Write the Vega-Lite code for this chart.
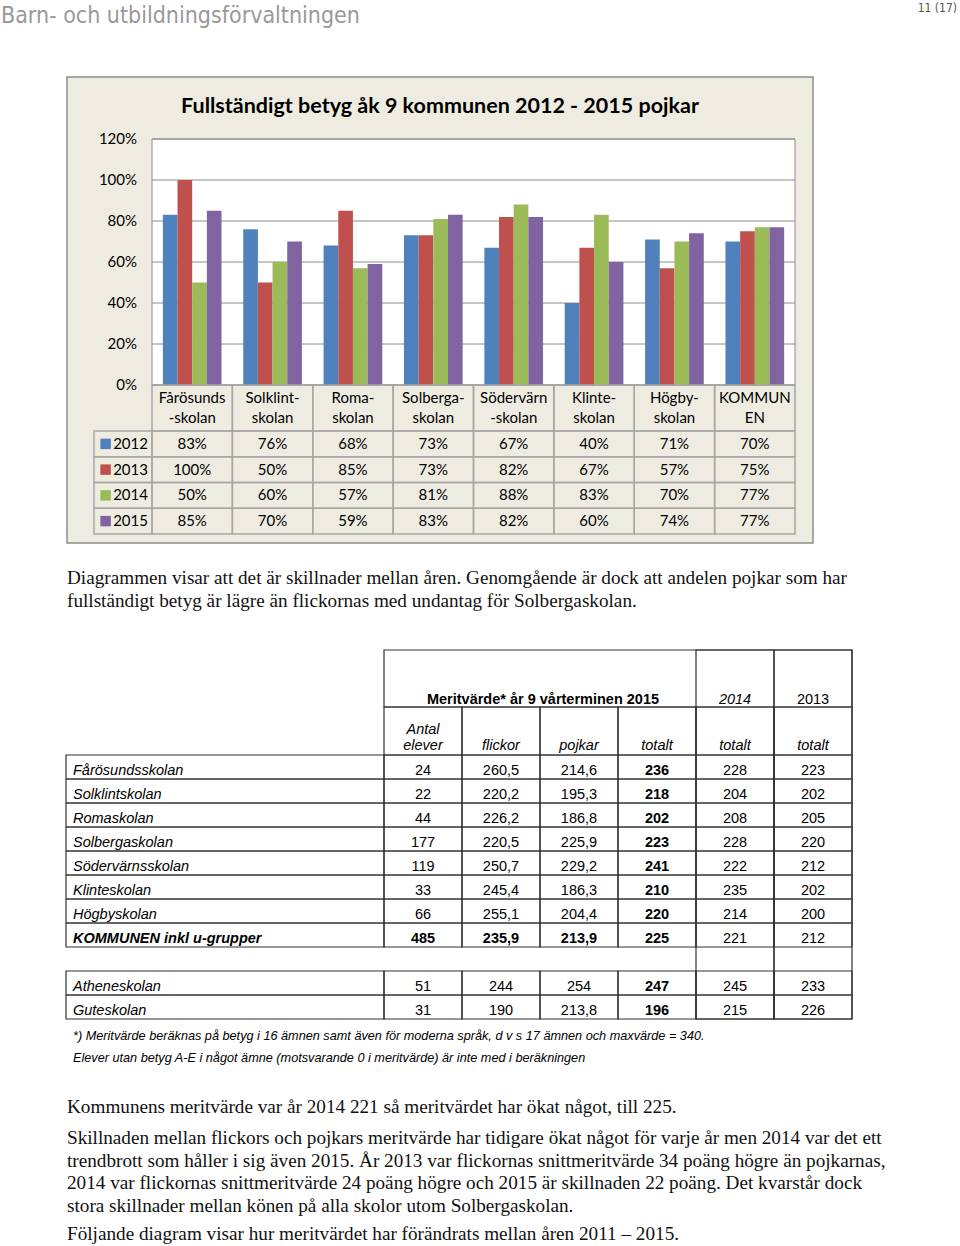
{
  "$schema": "https://vega.github.io/schema/vega-lite/v6.json",
  "width": 960,
  "height": 1246,
  "autosize": {"type": "none"},
  "padding": 0,
  "background": "white",
  "config": {
    "view": {"stroke": null},
    "locale": {"number": {"decimal": ",", "thousands": " ", "grouping": [3], "currency": ["", " kr"]}}
  },
  "datasets": {
    "skolor": [
      {"skola": "Fårösundsskolan", "etikett": "Fårösunds\n-skolan"},
      {"skola": "Solklintskolan", "etikett": "Solklint-\nskolan"},
      {"skola": "Romaskolan", "etikett": "Roma-\nskolan"},
      {"skola": "Solbergaskolan", "etikett": "Solberga-\nskolan"},
      {"skola": "Södervärnsskolan", "etikett": "Södervärn\n-skolan"},
      {"skola": "Klinteskolan", "etikett": "Klinte-\nskolan"},
      {"skola": "Högbyskolan", "etikett": "Högby-\nskolan"},
      {"skola": "KOMMUNEN", "etikett": "KOMMUN\nEN"}
    ],
    "ar": [{"ar": "2012"}, {"ar": "2013"}, {"ar": "2014"}, {"ar": "2015"}],
    "skala": [{"v": 0}, {"v": 0.2}, {"v": 0.4}, {"v": 0.6}, {"v": 0.8}, {"v": 1.0}, {"v": 1.2}],
    "andel": [
      {"skola": "Fårösundsskolan", "ar": "2012", "andel": 0.83},
      {"skola": "Fårösundsskolan", "ar": "2013", "andel": 1.00},
      {"skola": "Fårösundsskolan", "ar": "2014", "andel": 0.50},
      {"skola": "Fårösundsskolan", "ar": "2015", "andel": 0.85},
      {"skola": "Solklintskolan", "ar": "2012", "andel": 0.76},
      {"skola": "Solklintskolan", "ar": "2013", "andel": 0.50},
      {"skola": "Solklintskolan", "ar": "2014", "andel": 0.60},
      {"skola": "Solklintskolan", "ar": "2015", "andel": 0.70},
      {"skola": "Romaskolan", "ar": "2012", "andel": 0.68},
      {"skola": "Romaskolan", "ar": "2013", "andel": 0.85},
      {"skola": "Romaskolan", "ar": "2014", "andel": 0.57},
      {"skola": "Romaskolan", "ar": "2015", "andel": 0.59},
      {"skola": "Solbergaskolan", "ar": "2012", "andel": 0.73},
      {"skola": "Solbergaskolan", "ar": "2013", "andel": 0.73},
      {"skola": "Solbergaskolan", "ar": "2014", "andel": 0.81},
      {"skola": "Solbergaskolan", "ar": "2015", "andel": 0.83},
      {"skola": "Södervärnsskolan", "ar": "2012", "andel": 0.67},
      {"skola": "Södervärnsskolan", "ar": "2013", "andel": 0.82},
      {"skola": "Södervärnsskolan", "ar": "2014", "andel": 0.88},
      {"skola": "Södervärnsskolan", "ar": "2015", "andel": 0.82},
      {"skola": "Klinteskolan", "ar": "2012", "andel": 0.40},
      {"skola": "Klinteskolan", "ar": "2013", "andel": 0.67},
      {"skola": "Klinteskolan", "ar": "2014", "andel": 0.83},
      {"skola": "Klinteskolan", "ar": "2015", "andel": 0.60},
      {"skola": "Högbyskolan", "ar": "2012", "andel": 0.71},
      {"skola": "Högbyskolan", "ar": "2013", "andel": 0.57},
      {"skola": "Högbyskolan", "ar": "2014", "andel": 0.70},
      {"skola": "Högbyskolan", "ar": "2015", "andel": 0.74},
      {"skola": "KOMMUNEN", "ar": "2012", "andel": 0.70},
      {"skola": "KOMMUNEN", "ar": "2013", "andel": 0.75},
      {"skola": "KOMMUNEN", "ar": "2014", "andel": 0.77},
      {"skola": "KOMMUNEN", "ar": "2015", "andel": 0.77}
    ],
    "merit": [
      {"skola": "Fårösundsskolan", "antal": 24, "flickor": 260.5, "pojkar": 214.6, "totalt": 236, "t2014": 228, "t2013": 223},
      {"skola": "Solklintskolan", "antal": 22, "flickor": 220.2, "pojkar": 195.3, "totalt": 218, "t2014": 204, "t2013": 202},
      {"skola": "Romaskolan", "antal": 44, "flickor": 226.2, "pojkar": 186.8, "totalt": 202, "t2014": 208, "t2013": 205},
      {"skola": "Solbergaskolan", "antal": 177, "flickor": 220.5, "pojkar": 225.9, "totalt": 223, "t2014": 228, "t2013": 220},
      {"skola": "Södervärnsskolan", "antal": 119, "flickor": 250.7, "pojkar": 229.2, "totalt": 241, "t2014": 222, "t2013": 212},
      {"skola": "Klinteskolan", "antal": 33, "flickor": 245.4, "pojkar": 186.3, "totalt": 210, "t2014": 235, "t2013": 202},
      {"skola": "Högbyskolan", "antal": 66, "flickor": 255.1, "pojkar": 204.4, "totalt": 220, "t2014": 214, "t2013": 200},
      {"skola": "KOMMUNEN inkl u-grupper", "antal": 485, "flickor": 235.9, "pojkar": 213.9, "totalt": 225, "t2014": 221, "t2013": 212},
      {"skola": "Atheneskolan", "antal": 51, "flickor": 244, "pojkar": 254, "totalt": 247, "t2014": 245, "t2013": 233},
      {"skola": "Guteskolan", "antal": 31, "flickor": 190, "pojkar": 213.8, "totalt": 196, "t2014": 215, "t2013": 226}
    ],
    "kolumner": [
      {"kol": "antal", "rubrik": "Antal\nelever"},
      {"kol": "flickor", "rubrik": "flickor"},
      {"kol": "pojkar", "rubrik": "pojkar"},
      {"kol": "totalt", "rubrik": "totalt"},
      {"kol": "t2014", "rubrik": "totalt", "ar": "2014"},
      {"kol": "t2013", "rubrik": "totalt", "ar": "2013"}
    ]
  },
  "layer": [
    {
      "data": {"values": [{"text": "Barn- och utbildningsförvaltningen"}]},
      "mark": {"type": "text", "align": "left", "baseline": "alphabetic", "font": "Liberation Sans Narrow, DejaVu Sans Condensed, sans-serif", "fontSize": 23, "color": "#999999"},
      "encoding": {
        "text": {"field": "text"},
        "x": {"datum": 0, "type": "quantitative", "scale": {"domain": [0, 1], "range": [1, 957]}, "axis": null},
        "y": {"datum": 1, "type": "quantitative", "scale": {"domain": [0, 1], "range": [0, 23]}, "axis": null}
      }
    },
    {
      "data": {"values": [{"text": "11 (17)"}]},
      "mark": {"type": "text", "align": "right", "baseline": "alphabetic", "font": "Liberation Sans Narrow, DejaVu Sans Condensed, sans-serif", "fontSize": 12, "color": "#555555"},
      "encoding": {
        "text": {"field": "text"},
        "x": {"datum": 1, "type": "quantitative", "scale": {"domain": [0, 1], "range": [1, 957]}, "axis": null},
        "y": {"datum": 1, "type": "quantitative", "scale": {"domain": [0, 1], "range": [0, 12]}, "axis": null}
      }
    },
    {
      "data": {"values": [{"ram": "diagram"}]},
      "mark": {"type": "rect", "fill": "#EEECE1", "stroke": "#8c8c8c", "strokeWidth": 1.5},
      "encoding": {
        "x": {"datum": 0, "type": "quantitative", "scale": {"domain": [0, 1], "range": [67, 813]}, "axis": null},
        "x2": {"datum": 1},
        "y": {"datum": 0, "type": "quantitative", "scale": {"domain": [0, 1], "range": [77, 543]}, "axis": null},
        "y2": {"datum": 1}
      }
    },
    {
      "data": {"values": [{"ram": "rityta"}]},
      "mark": {"type": "rect", "fill": "#ffffff", "stroke": "#8c8c8c", "strokeWidth": 1},
      "encoding": {
        "x": {"datum": 0, "type": "quantitative", "scale": {"domain": [0, 1], "range": [152, 795]}, "axis": null},
        "x2": {"datum": 1},
        "y": {"datum": 0, "type": "quantitative", "scale": {"domain": [0, 1], "range": [139, 385]}, "axis": null},
        "y2": {"datum": 1}
      }
    },
    {
      "data": {"name": "skala"},
      "mark": {"type": "rule", "stroke": "#8c8c8c", "strokeWidth": 1},
      "encoding": {
        "x": {"datum": 0, "type": "quantitative", "scale": {"domain": [0, 1], "range": [152, 795]}, "axis": null},
        "x2": {"datum": 1},
        "y": {"field": "v", "type": "quantitative", "scale": {"domain": [0, 1.2], "range": [385, 139], "nice": false}, "axis": null}
      }
    },
    {
      "data": {"name": "andel"},
      "mark": {"type": "bar"},
      "encoding": {
        "x": {"field": "skola", "type": "nominal", "scale": {"domain": ["Fårösundsskolan", "Solklintskolan", "Romaskolan", "Solbergaskolan", "Södervärnsskolan", "Klinteskolan", "Högbyskolan", "KOMMUNEN"], "range": [152, 795], "paddingInner": 0.27, "paddingOuter": 0.135}, "axis": null},
        "xOffset": {"field": "ar", "type": "nominal", "scale": {"domain": ["2012", "2013", "2014", "2015"], "paddingInner": 0, "paddingOuter": 0}},
        "y": {"field": "andel", "type": "quantitative", "scale": {"domain": [0, 1.2], "range": [385, 139], "nice": false}, "axis": null},
        "color": {"field": "ar", "type": "nominal", "scale": {"domain": ["2012", "2013", "2014", "2015"], "range": ["#4F81BD", "#C0504D", "#9BBB59", "#8064A2"]}, "legend": null}
      }
    },
    {
      "data": {"name": "skala"},
      "mark": {"type": "text", "align": "right", "baseline": "middle", "font": "Lato", "fontSize": 15, "color": "#000000"},
      "encoding": {
        "text": {"field": "v", "type": "quantitative", "format": ".0%"},
        "x": {"datum": 1, "type": "quantitative", "scale": {"domain": [0, 1], "range": [67, 137]}, "axis": null},
        "y": {"field": "v", "type": "quantitative", "scale": {"domain": [0, 1.2], "range": [385, 139], "nice": false}, "axis": null}
      }
    },
    {
      "data": {"values": [{"text": "Fullständigt betyg åk 9 kommunen 2012 - 2015 pojkar"}]},
      "mark": {"type": "text", "align": "center", "baseline": "alphabetic", "font": "Lato", "fontWeight": "bold", "fontSize": 21.5, "color": "#000000"},
      "encoding": {
        "text": {"field": "text"},
        "x": {"datum": 0.5, "type": "quantitative", "scale": {"domain": [0, 1], "range": [67, 813]}, "axis": null},
        "y": {"datum": 1, "type": "quantitative", "scale": {"domain": [0, 1], "range": [77, 113]}, "axis": null}
      }
    },
    {
      "data": {"name": "skolor"},
      "mark": {"type": "rect", "fillOpacity": 0, "stroke": "#a6a6a6", "strokeWidth": 1.5},
      "encoding": {
        "x": {"field": "skola", "type": "nominal", "scale": {"domain": ["Fårösundsskolan", "Solklintskolan", "Romaskolan", "Solbergaskolan", "Södervärnsskolan", "Klinteskolan", "Högbyskolan", "KOMMUNEN"], "range": [152, 795], "paddingInner": 0, "paddingOuter": 0}, "axis": null},
        "y": {"datum": 0, "type": "quantitative", "scale": {"domain": [0, 1], "range": [385, 431]}, "axis": null},
        "y2": {"datum": 1}
      }
    },
    {
      "data": {"name": "andel"},
      "mark": {"type": "rect", "fillOpacity": 0, "stroke": "#a6a6a6", "strokeWidth": 1.5},
      "encoding": {
        "x": {"field": "skola", "type": "nominal", "scale": {"domain": ["Fårösundsskolan", "Solklintskolan", "Romaskolan", "Solbergaskolan", "Södervärnsskolan", "Klinteskolan", "Högbyskolan", "KOMMUNEN"], "range": [152, 795], "paddingInner": 0, "paddingOuter": 0}, "axis": null},
        "y": {"field": "ar", "type": "nominal", "scale": {"domain": ["2012", "2013", "2014", "2015"], "range": [431, 534], "paddingInner": 0, "paddingOuter": 0}, "axis": null}
      }
    },
    {
      "data": {"name": "ar"},
      "mark": {"type": "rect", "fillOpacity": 0, "stroke": "#a6a6a6", "strokeWidth": 1.5},
      "encoding": {
        "x": {"datum": 0, "type": "quantitative", "scale": {"domain": [0, 1], "range": [94, 152]}, "axis": null},
        "x2": {"datum": 1},
        "y": {"field": "ar", "type": "nominal", "scale": {"domain": ["2012", "2013", "2014", "2015"], "range": [431, 534], "paddingInner": 0, "paddingOuter": 0}, "axis": null}
      }
    },
    {
      "data": {"name": "skolor"},
      "mark": {"type": "text", "align": "center", "baseline": "middle", "lineBreak": "\n", "lineHeight": 20, "font": "Lato", "fontSize": 15, "color": "#000000"},
      "encoding": {
        "text": {"field": "etikett"},
        "x": {"field": "skola", "type": "nominal", "scale": {"domain": ["Fårösundsskolan", "Solklintskolan", "Romaskolan", "Solbergaskolan", "Södervärnsskolan", "Klinteskolan", "Högbyskolan", "KOMMUNEN"], "range": [152, 795], "paddingInner": 0, "paddingOuter": 0}, "axis": null},
        "y": {"datum": 0, "type": "quantitative", "scale": {"domain": [0, 1], "range": [398, 418]}, "axis": null}
      }
    },
    {
      "data": {"name": "andel"},
      "mark": {"type": "text", "align": "center", "baseline": "middle", "font": "Lato", "fontSize": 15, "color": "#000000"},
      "encoding": {
        "text": {"field": "andel", "type": "quantitative", "format": ".0%"},
        "x": {"field": "skola", "type": "nominal", "scale": {"domain": ["Fårösundsskolan", "Solklintskolan", "Romaskolan", "Solbergaskolan", "Södervärnsskolan", "Klinteskolan", "Högbyskolan", "KOMMUNEN"], "range": [152, 795], "paddingInner": 0, "paddingOuter": 0}, "axis": null},
        "y": {"field": "ar", "type": "nominal", "scale": {"domain": ["2012", "2013", "2014", "2015"], "range": [431, 534], "paddingInner": 0, "paddingOuter": 0}, "axis": null}
      }
    },
    {
      "data": {"name": "ar"},
      "mark": {"type": "square", "size": 110, "opacity": 1},
      "encoding": {
        "x": {"datum": 0.2, "type": "quantitative", "scale": {"domain": [0, 1], "range": [94, 152]}, "axis": null},
        "y": {"field": "ar", "type": "nominal", "scale": {"domain": ["2012", "2013", "2014", "2015"], "range": [431, 534], "paddingInner": 0, "paddingOuter": 0}, "axis": null},
        "color": {"field": "ar", "type": "nominal", "scale": {"domain": ["2012", "2013", "2014", "2015"], "range": ["#4F81BD", "#C0504D", "#9BBB59", "#8064A2"]}, "legend": null}
      }
    },
    {
      "data": {"name": "ar"},
      "mark": {"type": "text", "align": "left", "baseline": "middle", "font": "Lato", "fontSize": 15, "color": "#000000"},
      "encoding": {
        "text": {"field": "ar"},
        "x": {"datum": 0.33, "type": "quantitative", "scale": {"domain": [0, 1], "range": [94, 152]}, "axis": null},
        "y": {"field": "ar", "type": "nominal", "scale": {"domain": ["2012", "2013", "2014", "2015"], "range": [431, 534], "paddingInner": 0, "paddingOuter": 0}, "axis": null}
      }
    },
    {
      "data": {"values": [{"text": "Diagrammen visar att det är skillnader mellan åren. Genomgående är dock att andelen pojkar som har\nfullständigt betyg är lägre än flickornas med undantag för Solbergaskolan."}]},
      "mark": {"type": "text", "align": "left", "baseline": "alphabetic", "lineBreak": "\n", "lineHeight": 22.5, "font": "Liberation Serif", "fontSize": 19.2, "color": "#111111"},
      "encoding": {
        "text": {"field": "text"},
        "x": {"datum": 0, "type": "quantitative", "scale": {"domain": [0, 1], "range": [67, 900]}, "axis": null},
        "y": {"datum": 0, "type": "quantitative", "scale": {"domain": [0, 1], "range": [584, 610]}, "axis": null}
      }
    },
    {
      "data": {"values": [{"cell": "rubrik"}]},
      "mark": {"type": "rect", "fillOpacity": 0, "stroke": "#333333", "strokeWidth": 1.2},
      "encoding": {
        "x": {"datum": 0, "type": "quantitative", "scale": {"domain": [0, 1], "range": [384, 852]}, "axis": null},
        "x2": {"datum": 1},
        "y": {"datum": 0, "type": "quantitative", "scale": {"domain": [0, 1], "range": [650, 707]}, "axis": null},
        "y2": {"datum": 1}
      }
    },
    {
      "data": {"name": "kolumner"},
      "transform": [{"filter": "datum.ar != null"}],
      "mark": {"type": "rect", "fillOpacity": 0, "stroke": "#333333", "strokeWidth": 1.2},
      "encoding": {
        "x": {"field": "kol", "type": "nominal", "scale": {"domain": ["antal", "flickor", "pojkar", "totalt", "t2014", "t2013"], "range": [384, 852], "paddingInner": 0, "paddingOuter": 0}, "axis": null},
        "y": {"datum": 0, "type": "quantitative", "scale": {"domain": [0, 1], "range": [650, 1019]}, "axis": null},
        "y2": {"datum": 1}
      }
    },
    {
      "data": {"name": "kolumner"},
      "mark": {"type": "rect", "fillOpacity": 0, "stroke": "#333333", "strokeWidth": 1.2},
      "encoding": {
        "x": {"field": "kol", "type": "nominal", "scale": {"domain": ["antal", "flickor", "pojkar", "totalt", "t2014", "t2013"], "range": [384, 852], "paddingInner": 0, "paddingOuter": 0}, "axis": null},
        "y": {"datum": 0, "type": "quantitative", "scale": {"domain": [0, 1], "range": [707, 755]}, "axis": null},
        "y2": {"datum": 1}
      }
    },
    {
      "data": {"name": "merit"},
      "transform": [{"fold": ["antal", "flickor", "pojkar", "totalt", "t2014", "t2013"], "as": ["kol", "varde"]}],
      "mark": {"type": "rect", "fillOpacity": 0, "stroke": "#333333", "strokeWidth": 1.2},
      "encoding": {
        "x": {"field": "kol", "type": "nominal", "scale": {"domain": ["antal", "flickor", "pojkar", "totalt", "t2014", "t2013"], "range": [384, 852], "paddingInner": 0, "paddingOuter": 0}, "axis": null},
        "y": {"field": "skola", "type": "nominal", "scale": {"domain": ["Fårösundsskolan", "Solklintskolan", "Romaskolan", "Solbergaskolan", "Södervärnsskolan", "Klinteskolan", "Högbyskolan", "KOMMUNEN inkl u-grupper", "mellanrum", "Atheneskolan", "Guteskolan"], "range": [755, 1019], "paddingInner": 0, "paddingOuter": 0}, "axis": null}
      }
    },
    {
      "data": {"name": "merit"},
      "mark": {"type": "rect", "fillOpacity": 0, "stroke": "#333333", "strokeWidth": 1.2},
      "encoding": {
        "x": {"datum": 0, "type": "quantitative", "scale": {"domain": [0, 1], "range": [66, 384]}, "axis": null},
        "x2": {"datum": 1},
        "y": {"field": "skola", "type": "nominal", "scale": {"domain": ["Fårösundsskolan", "Solklintskolan", "Romaskolan", "Solbergaskolan", "Södervärnsskolan", "Klinteskolan", "Högbyskolan", "KOMMUNEN inkl u-grupper", "mellanrum", "Atheneskolan", "Guteskolan"], "range": [755, 1019], "paddingInner": 0, "paddingOuter": 0}, "axis": null}
      }
    },
    {
      "data": {"values": [{"text": "Meritvärde* år 9 vårterminen 2015"}]},
      "mark": {"type": "text", "align": "center", "baseline": "alphabetic", "dy": -3, "font": "Liberation Sans", "fontWeight": "bold", "fontSize": 14.5, "color": "#000000"},
      "encoding": {
        "text": {"field": "text"},
        "x": {"datum": 0.5, "type": "quantitative", "scale": {"domain": [0, 1], "range": [384, 702]}, "axis": null},
        "y": {"datum": 1, "type": "quantitative", "scale": {"domain": [0, 1], "range": [650, 707]}, "axis": null}
      }
    },
    {
      "data": {"name": "kolumner"},
      "transform": [{"filter": "datum.ar == '2014'"}],
      "mark": {"type": "text", "align": "center", "baseline": "alphabetic", "dy": -3, "font": "Liberation Sans", "fontStyle": "italic", "fontSize": 14.5, "color": "#000000"},
      "encoding": {
        "text": {"field": "ar"},
        "x": {"field": "kol", "type": "nominal", "scale": {"domain": ["antal", "flickor", "pojkar", "totalt", "t2014", "t2013"], "range": [384, 852], "paddingInner": 0, "paddingOuter": 0}, "axis": null},
        "y": {"datum": 1, "type": "quantitative", "scale": {"domain": [0, 1], "range": [650, 707]}, "axis": null}
      }
    },
    {
      "data": {"name": "kolumner"},
      "transform": [{"filter": "datum.ar == '2013'"}],
      "mark": {"type": "text", "align": "center", "baseline": "alphabetic", "dy": -3, "font": "Liberation Sans", "fontSize": 14.5, "color": "#000000"},
      "encoding": {
        "text": {"field": "ar"},
        "x": {"field": "kol", "type": "nominal", "scale": {"domain": ["antal", "flickor", "pojkar", "totalt", "t2014", "t2013"], "range": [384, 852], "paddingInner": 0, "paddingOuter": 0}, "axis": null},
        "y": {"datum": 1, "type": "quantitative", "scale": {"domain": [0, 1], "range": [650, 707]}, "axis": null}
      }
    },
    {
      "data": {"name": "kolumner"},
      "transform": [{"filter": "datum.kol != 'antal'"}],
      "mark": {"type": "text", "align": "center", "baseline": "alphabetic", "font": "Liberation Sans", "fontStyle": "italic", "fontSize": 14.5, "color": "#000000"},
      "encoding": {
        "text": {"field": "rubrik"},
        "x": {"field": "kol", "type": "nominal", "scale": {"domain": ["antal", "flickor", "pojkar", "totalt", "t2014", "t2013"], "range": [384, 852], "paddingInner": 0, "paddingOuter": 0}, "axis": null},
        "y": {"datum": 1, "type": "quantitative", "scale": {"domain": [0, 1], "range": [733.5, 750]}, "axis": null}
      }
    },
    {
      "data": {"name": "kolumner"},
      "transform": [{"filter": "datum.kol == 'antal'"}],
      "mark": {"type": "text", "align": "center", "baseline": "alphabetic", "lineBreak": "\n", "lineHeight": 16.5, "font": "Liberation Sans", "fontStyle": "italic", "fontSize": 14.5, "color": "#000000"},
      "encoding": {
        "text": {"field": "rubrik"},
        "x": {"field": "kol", "type": "nominal", "scale": {"domain": ["antal", "flickor", "pojkar", "totalt", "t2014", "t2013"], "range": [384, 852], "paddingInner": 0, "paddingOuter": 0}, "axis": null},
        "y": {"datum": 0, "type": "quantitative", "scale": {"domain": [0, 1], "range": [733.5, 750]}, "axis": null}
      }
    },
    {
      "data": {"name": "merit"},
      "transform": [{"filter": "datum.skola != 'KOMMUNEN inkl u-grupper'"}],
      "mark": {"type": "text", "align": "left", "baseline": "alphabetic", "dx": 7, "dy": 8, "font": "Liberation Sans", "fontStyle": "italic", "fontSize": 14.5, "color": "#000000"},
      "encoding": {
        "text": {"field": "skola"},
        "x": {"datum": 0, "type": "quantitative", "scale": {"domain": [0, 1], "range": [66, 384]}, "axis": null},
        "y": {"field": "skola", "type": "nominal", "scale": {"domain": ["Fårösundsskolan", "Solklintskolan", "Romaskolan", "Solbergaskolan", "Södervärnsskolan", "Klinteskolan", "Högbyskolan", "KOMMUNEN inkl u-grupper", "mellanrum", "Atheneskolan", "Guteskolan"], "range": [755, 1019], "paddingInner": 0, "paddingOuter": 0}, "axis": null}
      }
    },
    {
      "data": {"name": "merit"},
      "transform": [{"filter": "datum.skola == 'KOMMUNEN inkl u-grupper'"}],
      "mark": {"type": "text", "align": "left", "baseline": "alphabetic", "dx": 7, "dy": 8, "font": "Liberation Sans", "fontStyle": "italic", "fontWeight": "bold", "fontSize": 14.5, "color": "#000000"},
      "encoding": {
        "text": {"field": "skola"},
        "x": {"datum": 0, "type": "quantitative", "scale": {"domain": [0, 1], "range": [66, 384]}, "axis": null},
        "y": {"field": "skola", "type": "nominal", "scale": {"domain": ["Fårösundsskolan", "Solklintskolan", "Romaskolan", "Solbergaskolan", "Södervärnsskolan", "Klinteskolan", "Högbyskolan", "KOMMUNEN inkl u-grupper", "mellanrum", "Atheneskolan", "Guteskolan"], "range": [755, 1019], "paddingInner": 0, "paddingOuter": 0}, "axis": null}
      }
    },
    {
      "data": {"name": "merit"},
      "transform": [
        {"fold": ["antal", "flickor", "pojkar", "totalt", "t2014", "t2013"], "as": ["kol", "varde"]},
        {"filter": "!(datum.kol == 'totalt' || (datum.skola == 'KOMMUNEN inkl u-grupper' && (datum.kol == 'antal' || datum.kol == 'flickor' || datum.kol == 'pojkar')))"}
      ],
      "mark": {"type": "text", "align": "center", "baseline": "alphabetic", "dy": 8, "font": "Liberation Sans", "fontSize": 14.5, "color": "#000000"},
      "encoding": {
        "text": {"field": "varde", "type": "quantitative", "format": "~f"},
        "x": {"field": "kol", "type": "nominal", "scale": {"domain": ["antal", "flickor", "pojkar", "totalt", "t2014", "t2013"], "range": [384, 852], "paddingInner": 0, "paddingOuter": 0}, "axis": null},
        "y": {"field": "skola", "type": "nominal", "scale": {"domain": ["Fårösundsskolan", "Solklintskolan", "Romaskolan", "Solbergaskolan", "Södervärnsskolan", "Klinteskolan", "Högbyskolan", "KOMMUNEN inkl u-grupper", "mellanrum", "Atheneskolan", "Guteskolan"], "range": [755, 1019], "paddingInner": 0, "paddingOuter": 0}, "axis": null}
      }
    },
    {
      "data": {"name": "merit"},
      "transform": [
        {"fold": ["antal", "flickor", "pojkar", "totalt", "t2014", "t2013"], "as": ["kol", "varde"]},
        {"filter": "datum.kol == 'totalt' || (datum.skola == 'KOMMUNEN inkl u-grupper' && (datum.kol == 'antal' || datum.kol == 'flickor' || datum.kol == 'pojkar'))"}
      ],
      "mark": {"type": "text", "align": "center", "baseline": "alphabetic", "dy": 8, "font": "Liberation Sans", "fontWeight": "bold", "fontSize": 14.5, "color": "#000000"},
      "encoding": {
        "text": {"field": "varde", "type": "quantitative", "format": "~f"},
        "x": {"field": "kol", "type": "nominal", "scale": {"domain": ["antal", "flickor", "pojkar", "totalt", "t2014", "t2013"], "range": [384, 852], "paddingInner": 0, "paddingOuter": 0}, "axis": null},
        "y": {"field": "skola", "type": "nominal", "scale": {"domain": ["Fårösundsskolan", "Solklintskolan", "Romaskolan", "Solbergaskolan", "Södervärnsskolan", "Klinteskolan", "Högbyskolan", "KOMMUNEN inkl u-grupper", "mellanrum", "Atheneskolan", "Guteskolan"], "range": [755, 1019], "paddingInner": 0, "paddingOuter": 0}, "axis": null}
      }
    },
    {
      "data": {"values": [{"text": "*) Meritvärde beräknas på betyg i 16 ämnen samt även för moderna språk, d v s 17 ämnen och maxvärde = 340.\nElever utan betyg A-E i något ämne (motsvarande 0 i meritvärde) är inte med i beräkningen"}]},
      "mark": {"type": "text", "align": "left", "baseline": "alphabetic", "lineBreak": "\n", "lineHeight": 22, "font": "Liberation Sans", "fontStyle": "italic", "fontSize": 12.7, "color": "#000000"},
      "encoding": {
        "text": {"field": "text"},
        "x": {"datum": 0, "type": "quantitative", "scale": {"domain": [0, 1], "range": [73, 900]}, "axis": null},
        "y": {"datum": 0, "type": "quantitative", "scale": {"domain": [0, 1], "range": [1040, 1062]}, "axis": null}
      }
    },
    {
      "data": {"values": [{"text": "Kommunens meritvärde var år 2014 221 så meritvärdet har ökat något, till 225."}]},
      "mark": {"type": "text", "align": "left", "baseline": "alphabetic", "font": "Liberation Serif", "fontSize": 19.2, "color": "#111111"},
      "encoding": {
        "text": {"field": "text"},
        "x": {"datum": 0, "type": "quantitative", "scale": {"domain": [0, 1], "range": [67, 900]}, "axis": null},
        "y": {"datum": 0, "type": "quantitative", "scale": {"domain": [0, 1], "range": [1113, 1130]}, "axis": null}
      }
    },
    {
      "data": {"values": [{"text": "Skillnaden mellan flickors och pojkars meritvärde har tidigare ökat något för varje år men 2014 var det ett\ntrendbrott som håller i sig även 2015. År 2013 var flickornas snittmeritvärde 34 poäng högre än pojkarnas,\n2014 var flickornas snittmeritvärde 24 poäng högre och 2015 är skillnaden 22 poäng. Det kvarstår dock\nstora skillnader mellan könen på alla skolor utom Solbergaskolan."}]},
      "mark": {"type": "text", "align": "left", "baseline": "alphabetic", "lineBreak": "\n", "lineHeight": 22.5, "font": "Liberation Serif", "fontSize": 19.2, "color": "#111111"},
      "encoding": {
        "text": {"field": "text"},
        "x": {"datum": 0, "type": "quantitative", "scale": {"domain": [0, 1], "range": [67, 900]}, "axis": null},
        "y": {"datum": 0, "type": "quantitative", "scale": {"domain": [0, 1], "range": [1144, 1212]}, "axis": null}
      }
    },
    {
      "data": {"values": [{"text": "Följande diagram visar hur meritvärdet har förändrats mellan åren 2011 – 2015."}]},
      "mark": {"type": "text", "align": "left", "baseline": "alphabetic", "font": "Liberation Serif", "fontSize": 19.2, "color": "#111111"},
      "encoding": {
        "text": {"field": "text"},
        "x": {"datum": 0, "type": "quantitative", "scale": {"domain": [0, 1], "range": [67, 900]}, "axis": null},
        "y": {"datum": 0, "type": "quantitative", "scale": {"domain": [0, 1], "range": [1240, 1246]}, "axis": null}
      }
    }
  ],
  "resolve": {"scale": {"x": "independent", "y": "independent", "color": "independent", "xOffset": "independent"}}
}
